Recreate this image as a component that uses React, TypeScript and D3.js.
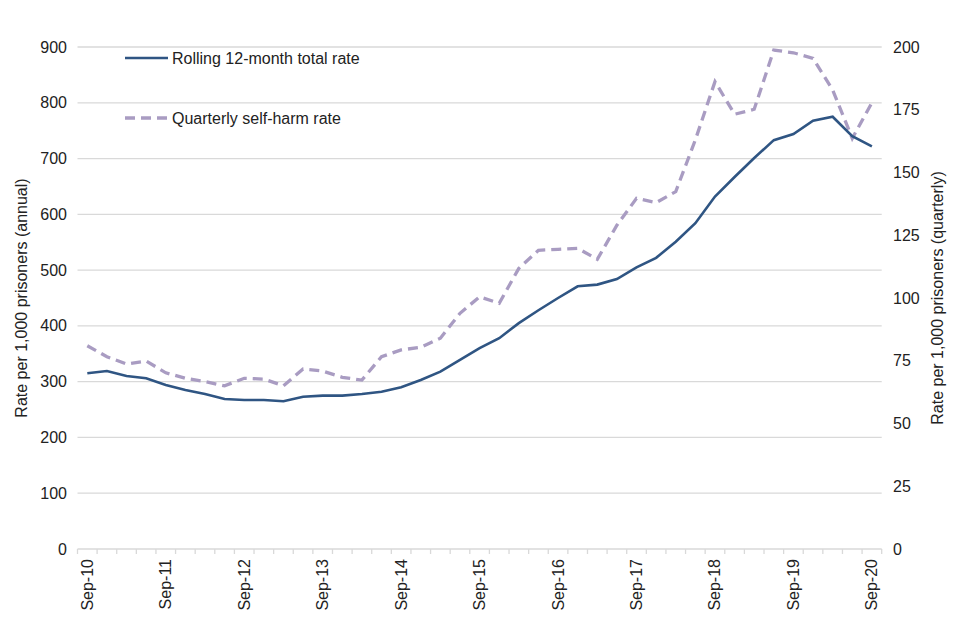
import * as d3 from 'd3';

const quarters = [
  'Sep-10', 'Dec-10', 'Mar-11', 'Jun-11',
  'Sep-11', 'Dec-11', 'Mar-12', 'Jun-12',
  'Sep-12', 'Dec-12', 'Mar-13', 'Jun-13',
  'Sep-13', 'Dec-13', 'Mar-14', 'Jun-14',
  'Sep-14', 'Dec-14', 'Mar-15', 'Jun-15',
  'Sep-15', 'Dec-15', 'Mar-16', 'Jun-16',
  'Sep-16', 'Dec-16', 'Mar-17', 'Jun-17',
  'Sep-17', 'Dec-17', 'Mar-18', 'Jun-18',
  'Sep-18', 'Dec-18', 'Mar-19', 'Jun-19',
  'Sep-19', 'Dec-19', 'Mar-20', 'Jun-20',
  'Sep-20',
];

// rolling 12-month total rate (left axis)
const rollingRate = [
  315, 319, 310, 306, 294, 285, 278, 269, 267, 267, 265,
  273, 275, 275, 278, 282, 290, 303, 318, 339, 360,
  378, 405, 428, 450, 471, 474, 484, 505, 522, 551,
  584, 632, 667, 701, 733, 744, 768, 775, 740, 722,
];

// quarterly self-harm rate (right axis)
const quarterlyRate = [
  81, 76.6, 73.7, 74.9, 70.2, 68, 66.7, 65, 68, 67.7, 65,
  71.7, 70.9, 68.4, 67.3, 76.6, 79.3, 80.4, 84, 93.9, 100.5,
  97.9, 111.8, 119, 119.4, 119.8, 115.4, 129, 139.7, 138, 142.4,
  163, 186.2, 173.2, 175.2, 198.8, 197.7, 195.5, 182.9, 163.6, 177.8,
];

const leftTicks = [0, 100, 200, 300, 400, 500, 600, 700, 800, 900];
const rightTicks = [0, 25, 50, 75, 100, 125, 150, 175, 200];

const W = 960;
const H = 640;
const plot = { left: 77.5, right: 881.7, top: 47, bottom: 549 };
const font = 'Arial, "Liberation Sans", sans-serif';
const fs = 16;
const blue = '#2F5583';
const lilac = '#A99CC2';

const App = () => {
  const x = d3.scaleBand<string>().domain(quarters).range([plot.left, plot.right]).padding(0);
  const yL = d3.scaleLinear().domain([0, 900]).range([plot.bottom, plot.top]);
  const yR = d3.scaleLinear().domain([0, 200]).range([plot.bottom, plot.top]);
  const cx = (i: number) => (x(quarters[i]) ?? 0) + x.bandwidth() / 2;

  const rollingLine = d3.line<number>().x((_, i) => cx(i)).y((d) => yL(d));
  const quarterlyLine = d3.line<number>().x((_, i) => cx(i)).y((d) => yR(d));

  const boundaries = quarters.map((q) => x(q) ?? 0).concat([plot.right]);
  const midY = (plot.top + plot.bottom) / 2;

  return (
    <div style={{ position: 'absolute', left: 0, top: 0 }}>
      <svg width={W} height={H} style={{ display: 'block', background: '#fff' }} fontFamily={font}>
        {leftTicks.map((t) => (
          <g key={'l' + t}>
            {t > 0 && (
              <line x1={plot.left} x2={plot.right} y1={yL(t)} y2={yL(t)} stroke="#D9D9D9" strokeWidth={1.3} />
            )}
            <text x={67} y={yL(t)} dy="0.35em" textAnchor="end" fontSize={fs} fill="#222">
              {t}
            </text>
          </g>
        ))}
        {rightTicks.map((t) => (
          <text key={'r' + t} x={893} y={yR(t)} dy="0.35em" textAnchor="start" fontSize={fs} fill="#222">
            {t}
          </text>
        ))}

        {/* x axis */}
        <line x1={plot.left} x2={plot.right} y1={plot.bottom} y2={plot.bottom} stroke="#D9D9D9" strokeWidth={1.3} />
        {boundaries.map((bx, i) => (
          <line key={'tk' + i} x1={bx} x2={bx} y1={plot.bottom} y2={plot.bottom + 5} stroke="#D9D9D9" strokeWidth={1.3} />
        ))}
        {quarters.map((q, i) =>
          q.startsWith('Sep') ? (
            <text
              key={q}
              transform={`translate(${cx(i) + 5.5},${plot.bottom + 10}) rotate(-90)`}
              textAnchor="end"
              fontSize={fs}
              fill="#222"
            >
              {q}
            </text>
          ) : null
        )}

        {/* axis titles */}
        <text transform={`translate(27,${midY}) rotate(-90)`} textAnchor="middle" fontSize={fs} fill="#222">
          Rate per 1,000 prisoners (annual)
        </text>
        <text transform={`translate(943,${midY}) rotate(-90)`} textAnchor="middle" fontSize={fs} fill="#222">
          Rate per 1,000 prisoners (quarterly)
        </text>

        {/* series */}
        <path d={quarterlyLine(quarterlyRate) ?? ''} fill="none" stroke={lilac} strokeWidth={3.3} strokeDasharray="10,6" />
        <path d={rollingLine(rollingRate) ?? ''} fill="none" stroke={blue} strokeWidth={2.6} />

        {/* legend */}
        <line x1={125} x2={168} y1={58} y2={58} stroke={blue} strokeWidth={2.6} />
        <text x={172} y={58} dy="0.35em" fontSize={fs} fill="#222">
          Rolling 12-month total rate
        </text>
        <line x1={125} x2={168} y1={118} y2={118} stroke={lilac} strokeWidth={3.3} strokeDasharray="10,6" />
        <text x={172} y={118} dy="0.35em" fontSize={fs} fill="#222">
          Quarterly self-harm rate
        </text>
      </svg>
    </div>
  );
};

export default App;
